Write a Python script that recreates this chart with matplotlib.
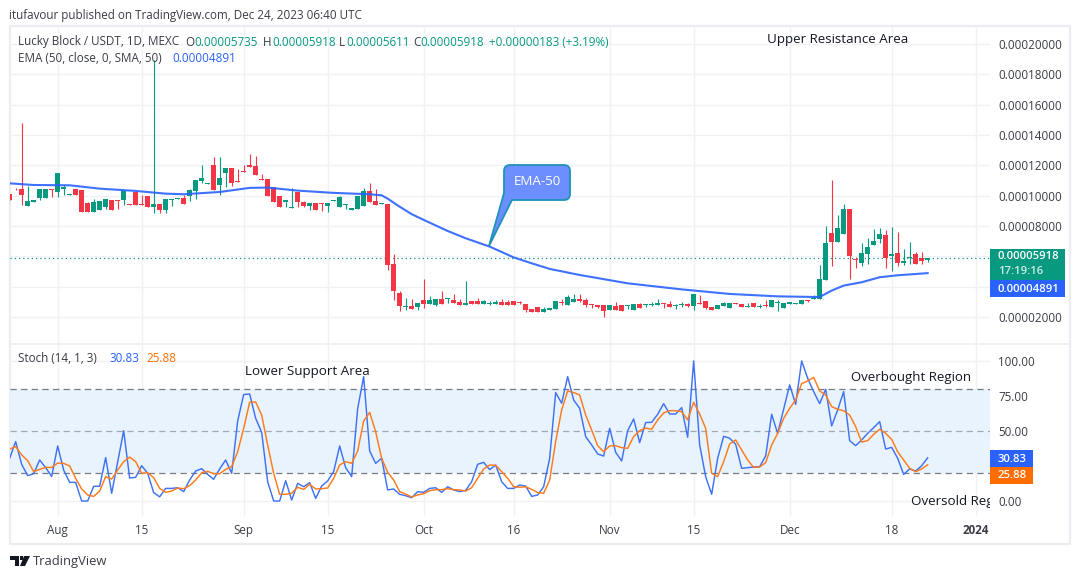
import numpy as np
import matplotlib
matplotlib.use("Agg")
import matplotlib.pyplot as plt
from matplotlib.patches import Rectangle, PathPatch, Polygon
from matplotlib.path import Path

plt.rcParams["font.family"] = ["Open Sans", "DejaVu Sans"]

# ── Data ───────────────────────────────────────────────────────────────────────
# prices are in units of 0.00001 USDT, one entry per daily candle
opens = [10.11,10.46,10.44,9.32,9.58,9.85,9.85,10.44,10.24,10.44,
         10.04,10.44,10.37,9.52,8.92,9.06,9.25,9.71,9.71,9.71,
         9.45,10.24,9.45,9.98,9.25,9.45,9.06,9.71,9.80,9.85,
         9.98,10.31,10.97,10.79,12.02,10.70,11.50,11.82,10.97,11.63,
         12.02,11.96,11.10,11.10,10.57,9.98,9.58,9.19,10.24,9.58,
         9.32,9.52,9.52,9.32,9.65,9.25,9.38,9.06,9.12,9.32,
         10.31,9.65,9.47,9.45,5.50,3.58,2.68,2.73,2.66,3.12,
         2.86,2.79,3.19,3.21,3.12,2.99,2.79,3.05,3.05,2.88,
         2.88,2.86,2.99,2.99,3.05,2.99,2.86,2.53,2.66,2.33,
         2.46,2.53,2.99,2.79,2.99,3.19,3.12,2.86,2.79,2.79,
         2.46,2.73,2.79,2.75,2.46,2.86,2.81,2.81,2.79,2.92,
         2.86,2.75,2.81,2.86,2.73,2.92,3.05,2.66,2.53,2.73,
         2.59,2.92,2.86,2.68,2.92,2.68,2.79,2.66,2.95,2.59,
         2.88,2.88,2.88,3.12,3.21,3.21,4.44,7.54,6.95,7.47,
         9.12,5.82,5.56,6.15,6.75,7.14,7.41,6.02,6.22,5.56,
         5.89,6.15,5.89,5.74]
highs = [10.11,10.51,14.79,10.64,9.71,10.44,10.44,10.44,11.50,10.70,
         10.11,10.44,10.37,9.58,9.78,9.65,9.78,9.71,9.71,10.37,
         9.45,10.24,10.04,9.98,18.95,9.45,9.78,9.78,9.85,10.04,
         10.44,11.03,12.02,10.84,12.55,12.55,11.82,11.82,11.76,12.02,
         12.75,12.62,11.43,11.10,10.57,9.98,9.71,10.51,10.24,9.65,
         9.52,9.52,9.52,9.52,9.71,9.98,9.45,9.19,9.98,10.51,
         10.84,10.44,9.52,9.45,6.15,3.71,3.25,3.19,2.92,4.51,
         3.38,3.19,3.71,3.25,3.52,3.19,4.37,3.05,3.25,3.12,
         3.05,3.12,3.19,3.12,3.05,3.05,2.86,2.53,2.66,2.66,
         2.59,3.05,3.19,3.45,3.52,3.52,3.25,2.86,2.79,2.79,
         2.79,2.99,2.79,2.79,2.86,2.90,2.86,2.99,3.19,2.92,
         3.05,2.86,2.99,2.92,3.52,3.45,3.05,2.66,2.79,2.99,
         2.92,2.92,2.86,2.90,2.92,2.86,3.12,3.12,3.12,2.92,
         2.97,2.92,3.12,3.12,3.43,5.43,8.00,11.03,8.73,9.45,
         9.12,5.96,6.88,7.21,7.80,7.87,7.74,7.93,7.60,6.48,
         6.95,6.29,6.29,5.92]
lows = [9.71,10.37,9.38,9.32,9.58,9.71,9.85,9.91,9.91,10.04,
        10.04,10.04,8.92,8.92,8.92,9.06,9.12,9.06,9.12,9.38,
        9.38,9.38,9.38,9.25,8.86,8.86,8.86,9.32,9.80,9.45,
        9.65,9.78,10.84,10.79,10.37,10.04,10.57,10.64,10.90,11.56,
        11.89,11.36,11.03,9.98,9.58,9.25,9.25,9.19,9.25,9.25,
        9.06,9.06,8.99,8.92,9.65,9.25,9.12,9.06,9.12,9.32,
        9.58,9.38,9.47,5.10,3.12,2.40,2.46,2.53,2.46,2.59,
        2.86,2.73,2.86,2.92,2.92,2.79,2.79,2.86,2.86,2.88,
        2.79,2.86,2.79,2.79,2.79,2.86,2.33,2.33,2.33,2.33,
        2.46,2.53,2.79,2.79,2.99,2.99,2.66,2.59,2.59,2.00,
        2.46,2.46,2.40,2.53,2.46,2.59,2.66,2.73,2.79,2.59,
        2.66,2.55,2.66,2.66,2.46,2.88,2.53,2.46,2.53,2.73,
        2.59,2.88,2.66,2.68,2.66,2.59,2.66,2.66,2.40,2.59,
        2.88,2.88,2.88,2.99,3.21,3.21,4.44,5.36,6.95,7.47,
        4.51,5.23,5.36,5.49,6.75,6.88,5.23,5.03,5.36,5.43,
        5.49,5.49,5.49,5.61]
closes = [9.71,10.42,10.04,9.65,9.71,10.44,10.44,10.37,11.50,10.57,
          10.11,10.04,8.92,8.92,9.58,9.65,9.78,9.06,9.67,10.31,
          9.38,9.38,9.38,9.25,9.45,9.06,9.78,9.78,9.85,9.45,
          10.37,11.03,11.16,10.84,10.37,11.16,11.82,10.84,10.90,11.56,
          11.89,11.36,11.03,9.98,9.58,9.25,9.71,9.25,9.58,9.32,
          9.52,9.06,9.47,9.52,9.71,9.91,9.45,9.19,9.98,10.31,
          9.58,9.38,9.52,5.43,3.71,2.73,2.73,2.53,2.92,2.86,
          3.12,3.19,2.86,3.25,2.92,2.79,2.92,2.86,2.86,3.05,
          2.92,2.99,2.79,2.79,2.79,2.95,2.46,2.33,2.33,2.53,
          2.59,3.05,2.95,3.32,3.19,3.05,2.79,2.81,2.66,2.40,
          2.79,2.46,2.40,2.79,2.86,2.59,2.86,2.86,2.92,2.88,
          2.66,2.79,2.86,2.73,3.52,2.88,2.59,2.46,2.79,2.92,
          2.92,2.88,2.66,2.73,2.66,2.73,2.75,3.12,2.99,2.92,
          2.97,2.92,3.12,3.05,3.25,4.51,6.88,6.95,7.87,9.12,
          6.02,5.78,6.22,6.62,7.01,7.47,5.89,6.15,5.56,5.69,
          5.96,5.49,5.69,5.92]

ema_days = [0,4,10,15,21,26,29,35,40,43,48,54,60,62,63,65,67,69,73,76,80,84,87,90,95,103,112,120,128,
            134,135,137,139,142,145,148,153]
ema_vals = [10.81,10.70,10.68,10.46,10.31,10.13,10.09,10.24,10.51,10.53,10.33,10.18,10.09,10.02,
            9.80,9.27,8.78,8.40,7.67,7.19,6.64,5.93,5.54,5.17,4.77,4.22,3.82,3.52,3.36,3.32,3.32,3.74,4.07,4.29,
            4.62,4.75,4.891]

stoch_k = [30.5,42.4,26.2,18.1,19.5,29.3,23.8,17.6,39.3,22.1,
           13.3,13.3,0,0,10.5,10.5,31,5.5,28,50.2,
           16.4,16.9,25.2,19.8,6,3,9,9,9.5,6.7,
           15,21.4,23.1,19,15.5,22.9,29.3,19.8,57.1,76,
           76.4,59,49,13.8,0,0,14.5,0.7,12.6,10.2,
           13.1,1.9,10.7,14.3,21,39.3,23.8,17.4,66,88.8,
           35.7,26.9,30.5,7.9,8.6,4.8,3.8,2.4,6.7,6.2,
           9,9.5,6.2,10.2,7.9,6.7,7.6,13.8,26.2,27.6,
           22.4,25.7,13.8,9,9,11.4,10.7,3.3,4.3,10.2,
           30.5,77.4,69.8,88.8,72.1,66.2,46,40,33.6,32.1,
           51.9,34.8,28.6,50.2,58.6,41.7,56,56.2,61.9,69.5,
           62.1,62.1,66.7,45.5,100,40,17.4,4.8,30.5,46.2,
           44.8,40.5,23.3,23.8,24.3,24.5,32.1,61.9,48.3,65.5,
           82.9,69,100,87.6,78.1,69.5,79.8,53.6,65,78.1,
           43.1,39.5,43.6,48.3,52.4,56.7,37.1,38.3,30.5,19,
           22.9,21.4,25.2,30.83]
stoch_d = [37.1,38.8,32.9,28.8,21,22.6,24,24,27.1,26.9,
           25,16.2,8.6,4.3,3.3,7.1,17.4,15.7,22.1,28.1,
           31.4,28.1,19.8,20.2,16.7,9,6.2,7.1,9.3,8.8,
           11,15,20.2,21.2,19.5,19.5,22.6,24.5,35.2,51.9,
           70.5,70.7,61.4,40,19.8,4.8,4.8,5.5,9.8,8.3,
           11.9,8.6,8.8,9.3,16.2,25.7,28.1,26.9,35.7,57.1,
           63.3,49.5,30.5,20.5,15,6.7,5,2.9,4.3,5.2,
           7.4,8.1,8.1,8.8,8.1,7.9,7.1,9.5,16.2,22.9,
           25.7,25.5,21,16.2,10.2,9.8,10.2,8.3,6,5.5,
           15,42.4,65,78.6,77.4,75.7,61.4,50.7,39.5,35.2,
           39.3,39.5,38.1,37.6,46,50.2,52.1,51.2,57.9,62.9,
           64.5,64.5,63.8,57.9,70.5,62.1,51.9,19.8,17.4,28.1,
           40.7,43.6,36.4,29.3,24,24.3,27.4,40,48.3,59,
           66.2,72.1,83.8,85.7,88.3,78.6,75.7,67.4,65.5,64.5,
           61.4,53.1,42.1,43.1,47.6,51.2,48.3,44,35.2,29.3,
           23.3,21,22.9,25.88]

date_ticks = [8, 22, 39, 53, 69, 84, 100, 114, 130, 147, 161]
date_labels = ["Aug", "15", "Sep", "15", "Oct", "16", "Nov", "15", "Dec", "18", "2024"]
price_ticks = [2, 4, 6, 8, 10, 12, 14, 16, 18, 20]
price_labels = ["0.00002000", "", "", "0.00008000", "0.00010000", "0.00012000",
                "0.00014000", "0.00016000", "0.00018000", "0.00020000"]
stoch_ticks = [0, 25, 50, 75, 100]
stoch_labels = ["0.00", "", "50.00", "75.00", "100.00"]
last_close = 5.918

# ── Colours ────────────────────────────────────────────────────────────────────
GREEN = "#089981"
RED = "#F23645"
BLUE = "#2962FF"
ORANGE = "#FF6D00"
GRID = "#F0F1F4"
FRAME = "#ECEDF2"
TEXT = "#3A3D47"
W, H = 1080, 579


def fx(x):
    return x / W


def fy(y):
    return 1 - y / H


fig = plt.figure(figsize=(W / 100, H / 100), dpi=100, facecolor="white")
ax = fig.add_axes([fx(10), fy(343), 980 / W, 317 / H])
ax2 = fig.add_axes([fx(10), fy(516), 980 / W, 172 / H])

# ── Price pane ─────────────────────────────────────────────────────────────────
x = np.arange(len(opens))
opens = np.array(opens)
closes = np.array(closes)
colors = [GREEN if c >= o else RED for o, c in zip(opens, closes)]

ax.vlines(x, lows, highs, colors=colors, linewidth=0.8, zorder=3)
ax.bar(x, closes - opens, bottom=opens, width=0.8, color=colors, linewidth=0, zorder=3)
ax.plot(ema_days, ema_vals, color=BLUE, linewidth=1.5, alpha=0.9, zorder=4)
ax.axhline(last_close, color=GREEN, linewidth=0.9, linestyle=(0, (1, 2.4)), zorder=2)

ax.set_xlim(0.055, 163.39)
ax.set_ylim(0.286, 21.18)
ax.set_yticks(price_ticks)
ax.set_yticklabels(price_labels)
ax.set_xticks(date_ticks)
ax.set_xticklabels([])
ax.yaxis.tick_right()
ax.tick_params(axis="both", length=0, labelsize=8.4, labelcolor=TEXT, pad=5.8)
ax.grid(True, color=GRID, linewidth=1)
ax.set_axisbelow(True)

# ── Stochastic pane ────────────────────────────────────────────────────────────
ax2.axhspan(20, 80, color="#E8F3FD", linewidth=0, zorder=1)
ax2.axhline(80, color="#787B86", linewidth=0.9, linestyle=(0, (5, 3.5)), zorder=2)
ax2.axhline(20, color="#787B86", linewidth=0.9, linestyle=(0, (5, 3.5)), zorder=2)
ax2.axhline(50, color="#A5A8B2", linewidth=0.9, linestyle=(0, (5, 3.5)), zorder=2)
ax2.plot(x, stoch_k, color="#3F72F5", linewidth=1.05, zorder=3)
ax2.plot(x, stoch_d, color="#FF7A1A", linewidth=1.05, zorder=4)
ax2.text(150.2, 0, "Oversold Reg", fontsize=9.6, color="#131722", va="center",
         clip_on=True, zorder=5)

ax2.set_xlim(0.055, 163.39)
ax2.set_ylim(-10.7, 112.1)
ax2.set_yticks(stoch_ticks)
ax2.set_yticklabels(stoch_labels)
ax2.set_xticks(date_ticks)
ax2.set_xticklabels(date_labels)
ax2.get_xticklabels()[-1].set_fontweight("bold")
ax2.yaxis.tick_right()
ax2.tick_params(axis="both", length=0, labelsize=8.4, labelcolor=TEXT)
ax2.tick_params(axis="y", pad=5.8)
ax2.tick_params(axis="x", pad=5.5)
ax2.grid(True, color=GRID, linewidth=1)
ax2.set_axisbelow(True)

for a in (ax, ax2):
    for s in a.spines.values():
        s.set_visible(False)
    a.patch.set_alpha(0)

# ── Frame and pane separator ───────────────────────────────────────────────────
fig.add_artist(Rectangle((fx(10), fy(544)), 1060 / W, 518 / H, transform=fig.transFigure,
                         fill=False, edgecolor=FRAME, linewidth=1.6, zorder=0))
fig.add_artist(plt.Line2D([fx(10), fx(1070)], [fy(344), fy(344)], color=FRAME, linewidth=1.2, zorder=0))


def label(px, py, s, color=TEXT, size=8.4, **kw):
    fig.text(fx(px), fy(py), s, color=color, fontsize=size, va="center", **kw)


# ── Header and legends ─────────────────────────────────────────────────────────
label(9, 15, "itufavour published on TradingView.com, Dec 24, 2023 06:40 UTC")
label(18, 42, "Lucky Block / USDT, 1D, MEXC")
for px, s in [(185, "O"), (263, "H"), (339, "L"), (413, "C")]:
    label(px, 42, s)
for px, s in [(194.5, "0.00005735"), (272, "0.00005918"), (346, "0.00005611"), (420.5, "0.00005918"),
              (489, "+0.00000183 (+3.19%)")]:
    label(px, 42, s, color=GREEN)
label(18, 59, "EMA (50, close, 0, SMA, 50)")
label(172, 59, "0.00004891", color=BLUE)
label(18, 359, "Stoch (14, 1, 3)")
label(109, 359, "30.83", color=BLUE)
label(146, 359, "25.88", color=ORANGE)

# ── Region notes ───────────────────────────────────────────────────────────────
label(767, 39, "Upper Resistance Area", color="#131722", size=9.6)
label(245, 372, "Lower Support Area", color="#131722", size=9.6)
label(851, 378, "Overbought Region", color="#131722", size=9.5)

# ── EMA-50 callout ─────────────────────────────────────────────────────────────
r = 6
verts = [(504 + r, 165), (570 - r, 165), (570, 165), (570, 165 + r),
         (570, 200 - r), (570, 200), (570 - r, 200),
         (512, 200), (489, 246), (504, 193),
         (504, 165 + r), (504, 165), (504 + r, 165), (504 + r, 165)]
codes = [Path.MOVETO, Path.LINETO, Path.CURVE3, Path.CURVE3,
         Path.LINETO, Path.CURVE3, Path.CURVE3,
         Path.LINETO, Path.LINETO, Path.LINETO,
         Path.LINETO, Path.CURVE3, Path.CURVE3, Path.CLOSEPOLY]
fig.add_artist(PathPatch(Path([(fx(a), fy(b)) for a, b in verts], codes), transform=fig.transFigure,
                         facecolor="#6C8EFF", edgecolor="#1E93B8", linewidth=1.3, zorder=6))
fig.text(fx(537), fy(182), "EMA-50", color="white", fontsize=9.6, ha="center", va="center", zorder=7)

# ── Price tags on the axis ─────────────────────────────────────────────────────
for top, bottom, right, c in [(249, 280, 1065, GREEN), (280, 297, 1065, BLUE),
                              (450, 467, 1033, BLUE), (467, 484, 1033, ORANGE)]:
    fig.add_artist(Rectangle((fx(990), fy(bottom)), (right - 990) / W, (bottom - top) / H,
                             transform=fig.transFigure, facecolor=c, edgecolor="none", zorder=6))
for py, s, c in [(257, "0.00005918", "white"), (271, "17:19:16", "#CDEBE6"), (289, "0.00004891", "white"),
                 (459, "30.83", "white"), (476, "25.88", "white")]:
    fig.text(fx(998), fy(py), s, color=c, fontsize=8.2, va="center", fontweight="semibold", zorder=7)

# ── TradingView mark ───────────────────────────────────────────────────────────
mark = "#131722"
for pts in [[(10, 556), (19, 556), (19, 566), (15, 566), (15, 560), (10, 560)],
            [(24, 556), (30, 556), (25, 566), (20, 566)]]:
    fig.add_artist(Polygon([(fx(a), fy(b)) for a, b in pts], transform=fig.transFigure,
                           facecolor=mark, edgecolor="none"))
fig.add_artist(Rectangle((fx(20), fy(559.5)), 3 / W, 3.5 / H, transform=fig.transFigure,
                         facecolor=mark, edgecolor="none"))
label(33, 561, "TradingView", color="#3A3D47", size=9.4)

fig.savefig("out.png", dpi=100)
